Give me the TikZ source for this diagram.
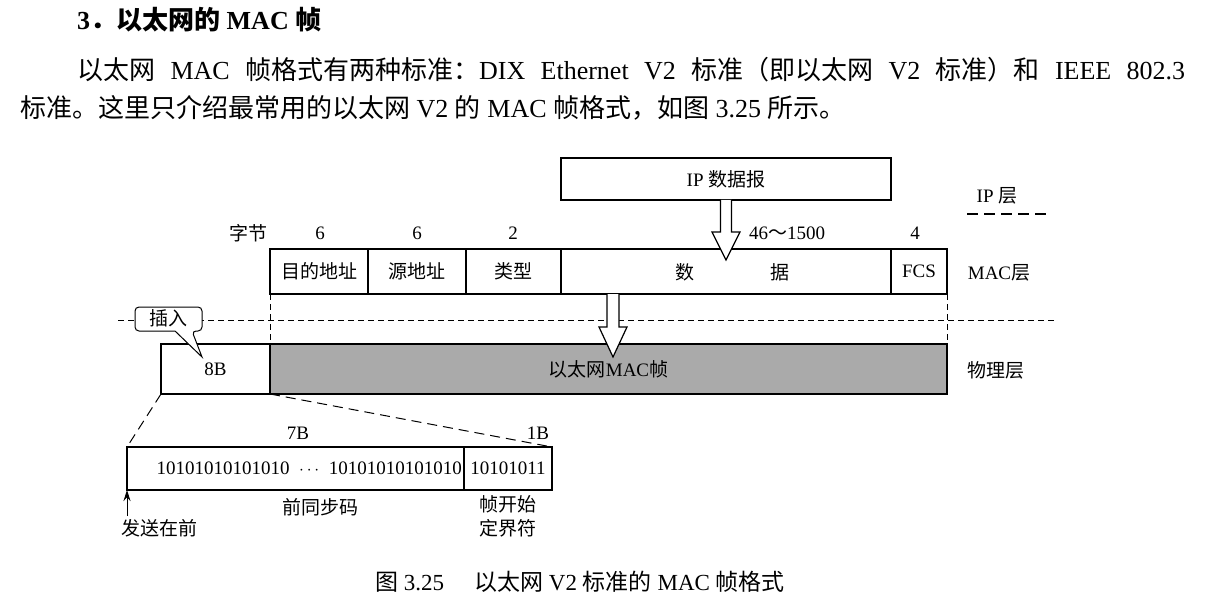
\documentclass[tikz,border=0pt]{standalone}
\usepackage{fontspec}
\setmainfont{Liberation Serif}
\newfontfamily\cjk{Noto Sans CJK SC}
\newcommand\zh[1]{{\cjk #1}}
\newcommand\dfont{\fontsize{19}{23}\selectfont}
\newcommand\pfont{\fontsize{26}{30}\selectfont}
\newcommand\capfont{\fontsize{23}{27}\selectfont}
\usetikzlibrary{arrows.meta,calc}
\definecolor{framegray}{RGB}{170,170,170}
\tikzset{
  fld/.style={draw, line width=1.3pt, inner sep=0pt, outer sep=0pt, minimum height=45pt, font=\dfont, anchor=west},
  lbl/.style={inner sep=0pt, font=\dfont},
  dline/.style={dash pattern=on 6pt off 4pt, line width=0.9pt},
  zline/.style={dash pattern=on 10pt off 6pt, line width=1pt},
  blk/.style={draw, fill=white, line width=1.2pt, line join=miter},
}
\begin{document}
\begin{tikzpicture}[x=1pt,y=-1pt]
\useasboundingbox (0,0) rectangle (1215,604);
% heading and paragraph
\node[anchor=west, inner sep=0pt, font=\pfont] (title) at (77,20)
  {\textbf{3}{\cjk\bfseries ．以太网的} \textbf{MAC} {\cjk\bfseries 帧}};
\node[anchor=west, inner sep=0pt, font=\pfont] (p1) at (77,70)
  {\makebox[1108pt][s]{\zh{以太网} MAC \zh{帧格式有两种标准：}DIX Ethernet V2 \zh{标准（即以太网} V2 \zh{标准）和} IEEE 802.3}};
\node[anchor=west, inner sep=0pt, font=\pfont] (p2) at (20,108)
  {\zh{标准。这里只介绍最常用的以太网} V2 \zh{的} MAC \zh{帧格式，如图} 3.25 \zh{所示。}};

% IP datagram
\node[fld, minimum width=330pt, minimum height=42pt] (ip) at (561,179) {IP \zh{数据报}};
\node[lbl] (iplayer) at (997,196) {IP \zh{层}};
\coordinate (ipsepL) at (967,214);
\coordinate (ipsepR) at (1050,214);
\draw[dash pattern=on 11pt off 6pt, line width=1.2pt] (ipsepL) -- (ipsepR);

% byte labels
\node[lbl] (bytes) at (248,233) {\zh{字节}};
\node[lbl] (n1) at (320,233) {6};
\node[lbl] (n2) at (417,233) {6};
\node[lbl] (n3) at (513,233) {2};
\node[lbl] (n4) at (787,233) {46\zh{～}1500};
\node[lbl] (n5) at (915,233) {4};

% MAC frame fields
\node[fld, minimum width=98pt] (dst) at (270,271.5) {\zh{目的地址}};
\node[fld, minimum width=98pt] (src) at (dst.east) {\zh{源地址}};
\node[fld, minimum width=95pt] (typ) at (src.east) {\zh{类型}};
\node[fld, minimum width=330pt] (dat) at (typ.east) {};
\node[fld, minimum width=56pt] (fcs) at (dat.east) {FCS};
\node[lbl] (dattxt) at (732,272) {\zh{数}\hspace{76pt}\zh{据}};
\node[lbl] (maclayer) at (999,273) {MAC\zh{层}};

% layer separator
\coordinate (sepL) at (118,320);
\coordinate (sepR) at (1057,320);
\draw[dline] (sepL) -- (sepR);

% physical layer
\node[fld, minimum width=109pt, minimum height=50pt] (pre8) at (161,369) {8B};
\node[fld, fill=framegray, minimum width=677pt, minimum height=50pt] (mac) at (pre8.east) {\zh{以太网}MAC\zh{帧}};
\node[lbl] (phylayer) at (996,370) {\zh{物理层}};
\draw[dline] (dst.south west) -- (mac.north west);
\draw[dline] (fcs.south east) -- (mac.north east);

% callout
\draw[line width=1pt, fill=white, rounded corners=4pt]
  (175,331) -- (135,331) -- (135,307) -- (202,307) -- (202,331) -- (192,331) [sharp corners] -- (202,357) -- cycle;
\node[lbl] (ins) at (168,318.5) {\zh{插入}};

% block arrows
\draw[blk, shift={(ip.south)}] (-5.5,0) -- (-5.5,32) -- (-14,32) -- (0,60) -- (14,32) -- (5.5,32) -- (5.5,0);
\draw[blk, shift={($(dat.south west)+(52,0)$)}] (-6,0) -- (-6,33) -- (-14,33) -- (0,63) -- (14,33) -- (6,33) -- (6,0);

% preamble detail
\node[fld, minimum width=337pt, minimum height=43pt] (pre) at (127,468.5) {};
\node[fld, minimum width=88pt, minimum height=43pt] (sfd) at (pre.east) {10101011};
\node[lbl, anchor=east] (bits) at ($(pre.east)+(-2,0)$) {10101010101010\ \ $\cdots$\ \ 10101010101010};
\draw[zline] (pre8.south west) -- (pre.north west);
\draw[zline] (pre8.south east) -- (sfd.north east);
\node[lbl] (b7) at (298,433) {7B};
\node[lbl] (b1) at (538,433) {1B};
\node[lbl] (pname) at (320,507) {\zh{前同步码}};
\node[lbl, align=center] (sname) at (508,516) {\zh{帧开始}\\[1pt]\zh{定界符}};
\coordinate (sendtail) at (127,516);
\draw[line width=1pt, -{Stealth[length=11pt,width=7pt]}] (sendtail) -- (pre.south west);
\node[lbl] (send) at (159,528) {\zh{发送在前}};

% caption
\node[anchor=west, inner sep=0pt, font=\capfont] (cap) at (375,582)
  {\zh{图} 3.25\hspace{30pt}\zh{以太网} V2 \zh{标准的} MAC \zh{帧格式}};
\end{tikzpicture}
\end{document}
